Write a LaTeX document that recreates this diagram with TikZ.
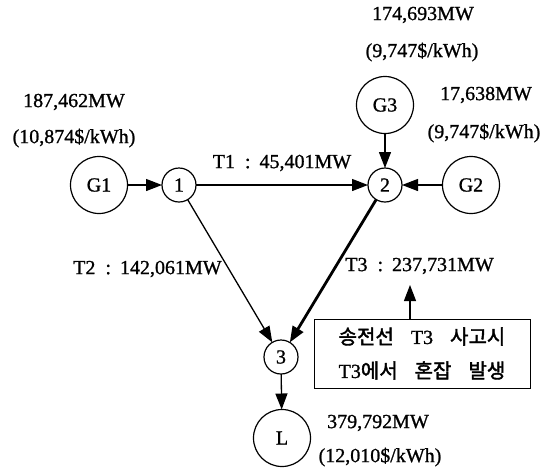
\documentclass[tikz,border=0pt]{standalone}
\usepackage{fontspec}
\setmainfont{Liberation Serif}[FakeBold=1]
\newfontfamily\kofont{Noto Sans CJK KR}[FakeBold=2]
\usetikzlibrary{arrows.meta,positioning}
\newcommand{\colsep}{\hspace{0.5em}:\hspace{0.45em}}
\newcommand{\kgap}{\hspace{17pt}}

\begin{document}
\begin{tikzpicture}[x=1pt, y=-1pt, font=\fontsize{20}{24}\selectfont,
  every node/.style={outer sep=0pt},
  bus/.style={draw, circle, line width=1.2pt, minimum size=34pt, inner sep=0pt},
  gen/.style={draw, circle, line width=1.2pt, minimum size=57pt, inner sep=0pt},
  flow/.style={line width=1.3pt, -{Triangle[length=16pt,width=12pt]}}]
\useasboundingbox (0,0) rectangle (550,467);
% buses and units
\node[gen] (G1) at (99,185) {G1};
\node[bus] (n1) at (179,185) {1};
\node[bus] (n2) at (385,185) {2};
\node[gen] (G2) at (471,185) {G2};
\node[gen] (G3) at (385,105) {G3};
\node[bus] (n3) at (281,357) {3};
\node[gen] (L) at (282,438) {L};
% outputs and prices
\node (G1mw) at (74,102) {187,462MW};
\node (G1pr) at (74,138) {(10,874\$/kWh)};
\node (G3mw) at (423,15) {174,693MW};
\node (G3pr) at (422,52) {(9,747\$/kWh)};
\node (G2mw) at (486,95) {17,638MW};
\node (G2pr) at (484,133) {(9,747\$/kWh)};
\node (Lmw) at (378,423) {379,792MW};
\node (Lpr) at (380,457) {(12,010\$/kWh)};
% congestion note
\node[draw, line width=1pt, minimum width=216pt, minimum height=69pt, align=center,
  font=\fontsize{20}{34}\selectfont] (note) at (422,353.5)
  {{\kofont 송전선}\kgap T3\kgap{\kofont 사고시}\\T3{\kofont 에서}\kgap{\kofont 혼잡}\kgap{\kofont 발생}};
\coordinate (tip) at (410,285);
% flows
\draw[flow] (G1) -- (n1);
\draw[flow] (G2) -- (n2);
\draw[flow] (G3) -- (n2);
\draw[flow] (n1) -- node[pos=0.5, yshift=22pt] {T1\colsep 45,401MW} (n2);
\draw[flow] (n1) -- node[pos=0.5, anchor=east, xshift=-5pt, yshift=2pt] {T2\colsep 142,061MW} (n3);
\draw[flow, line width=2.8pt] (n2) -- node[pos=0.5, anchor=west, xshift=9pt, yshift=5pt] {T3\colsep 237,731MW} (n3);
\draw[flow] (n3) -- (L);
\draw[flow] (note.north -| tip) -- (tip);
\end{tikzpicture}
\end{document}
